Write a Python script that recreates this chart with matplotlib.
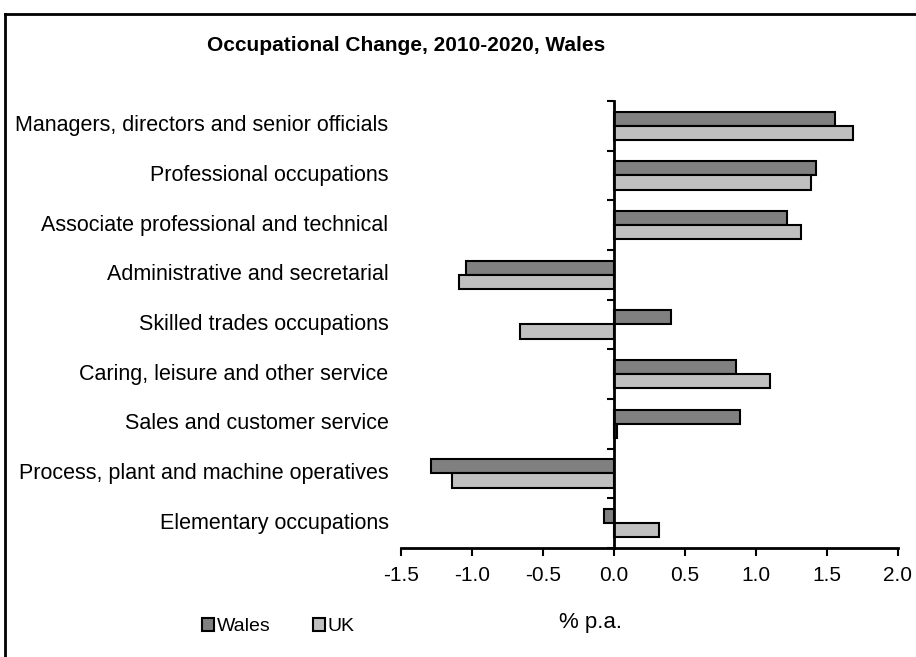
import matplotlib
matplotlib.use("Agg")
import matplotlib.pyplot as plt
import numpy as np
from matplotlib.lines import Line2D
from matplotlib.patches import Patch

plt.rcParams['font.family'] = ['Liberation Sans', 'DejaVu Sans']

occupations = [
    "Managers, directors and senior officials",
    "Professional occupations",
    "Associate professional and technical",
    "Administrative and secretarial",
    "Skilled trades occupations",
    "Caring, leisure and other service",
    "Sales and customer service",
    "Process, plant and machine operatives",
    "Elementary occupations",
]
wales = [1.56, 1.42, 1.22, -1.04, 0.40, 0.86, 0.89, -1.29, -0.07]
uk = [1.68, 1.39, 1.32, -1.09, -0.66, 1.10, 0.02, -1.14, 0.32]
xticks = [-1.5, -1.0, -0.5, 0.0, 0.5, 1.0, 1.5, 2.0]

fs = 15.5

fig = plt.figure(figsize=(9.16, 6.57), dpi=100)
ax = fig.add_axes([0.4378, 0.1659, 0.5425, 0.6804])

n = len(occupations)
y = np.arange(n)
h = 0.285
ax.barh(y - h / 2, wales, height=h, color="#808080", edgecolor="black", linewidth=1.5, label="Wales")
ax.barh(y + h / 2, uk, height=h, color="#c0c0c0", edgecolor="black", linewidth=1.5, label="UK")

ax.set_xlim(-1.5, 2.0)
ax.set_ylim(n - 0.5, -0.5)
ax.set_xticks(xticks)
ax.set_xticklabels([f"{v:.1f}" for v in xticks], fontsize=15)
ax.tick_params(axis="x", length=6, width=1.5, pad=7)

# vertical axis sits on zero, ticks at category boundaries
for s in ["top", "right"]:
    ax.spines[s].set_visible(False)
ax.spines["left"].set_position(("data", 0))
ax.spines["left"].set_linewidth(2)
ax.spines["bottom"].set_linewidth(2)
ax.set_yticks(np.arange(n + 1) - 0.5)
ax.set_yticklabels([])
ax.tick_params(axis="y", length=5, width=1.5)

for i, name in enumerate(occupations):
    ax.text(-0.025, i, name, transform=ax.get_yaxis_transform(),
            ha="right", va="center", fontsize=fs)

fig.text(0.443, 0.931, "Occupational Change, 2010-2020, Wales",
         ha="center", va="center", fontsize=15, fontweight="bold")
fig.text(0.645, 0.052, "% p.a.", ha="center", va="center", fontsize=16)

handles = [Patch(facecolor="#808080", edgecolor="black", linewidth=1.5, label="Wales"),
           Patch(facecolor="#c0c0c0", edgecolor="black", linewidth=1.5, label="UK")]
fig.legend(handles=handles, loc="center", bbox_to_anchor=(0.304, 0.046), ncol=2,
           frameon=False, fontsize=14, handlelength=0.6, handleheight=0.6,
           handletextpad=0.15, columnspacing=2.2)

# outer chart border
fig.add_artist(Line2D([0.006, 0.006], [0.0, 0.979], color="black", lw=2, transform=fig.transFigure))
fig.add_artist(Line2D([0.006, 1.0], [0.979, 0.979], color="black", lw=2, transform=fig.transFigure))

fig.savefig("out.png", dpi=100)
